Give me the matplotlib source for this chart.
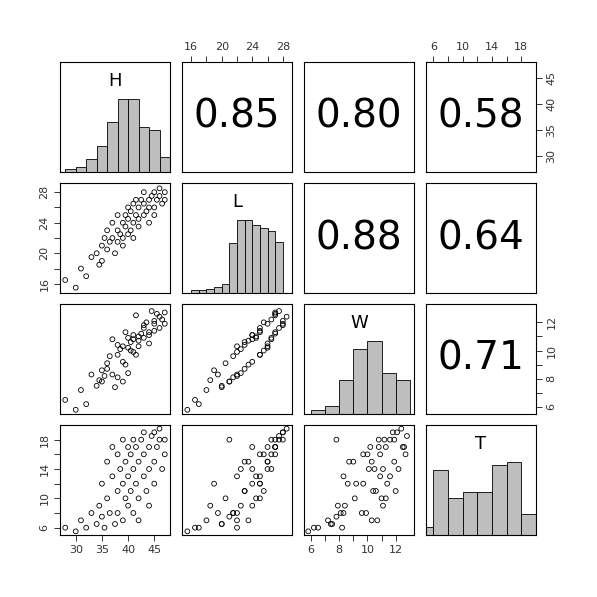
import matplotlib
matplotlib.use("Agg")
import matplotlib.pyplot as plt
import numpy as np

names = ["H", "L", "W", "T"]

H = [28, 30, 31, 32, 33, 34, 34.5, 35, 35, 35.5, 36, 36, 36.5, 37, 37, 37.5, 38, 38, 38, 38.5,
     39, 39, 39, 39.5, 39.5, 40, 40, 40, 40.5, 40.5, 41, 41, 41, 41.5, 41.5, 42, 42, 42, 42.5,
     43, 43, 43, 43.5, 44, 44, 44, 44.5, 45, 45, 45, 45.5, 46, 46, 46.5, 47, 47]
L = [16.5, 15.5, 18, 17, 19.5, 20, 18.5, 21, 19, 22, 20.5, 23, 21.5, 22, 24, 20, 23, 21.5, 25, 22.5,
     24, 22, 21, 25, 23.5, 24.5, 22.5, 26, 23, 25.5, 24, 26.5, 22, 25, 27, 24.5, 26, 23.5, 27,
     25, 26.5, 28, 25.5, 27, 24, 26, 27.5, 26, 28, 25, 27, 27.5, 28.5, 26.5, 28, 27]
W = [6.5, 5.8, 7.2, 6.2, 8.3, 7.5, 7.9, 7.8, 8.6, 8.2, 9.1, 8.7, 9.6, 8.3, 10.8, 7.4, 10.4, 8.1, 9.7, 10.1,
     9.2, 10.3, 7.8, 11.3, 9.0, 10.9, 8.4, 10.2, 10.6, 10.0, 11.1, 10.8, 9.9, 9.7, 12.5, 11.0, 10.3, 10.7, 11.2,
     11.6, 10.9, 11.8, 12.0, 11.3, 11.1, 10.5, 12.8, 11.9, 12.1, 11.4, 12.6, 11.6, 12.4, 12.2, 11.9, 12.7]
T = [6, 5.5, 7, 6, 8, 6.5, 9, 7.5, 12, 6, 10, 15, 8, 13, 17, 6.5, 11, 8, 16, 14,
     12, 7, 18, 10, 15, 13, 9, 17, 11, 16, 14, 18, 8, 12, 17, 10, 15, 7, 18,
     13, 16, 19, 11, 17, 9, 14, 18.5, 15, 19, 12, 17, 18, 19.5, 14, 18, 16]
data = [H, L, W, T]

corr = {(0, 1): "0.85", (0, 2): "0.80", (0, 3): "0.58",
        (1, 2): "0.88", (1, 3): "0.64", (2, 3): "0.71"}

# histogram bins and normalized counts
hist_edges = [list(range(28, 50, 2)),
              list(range(16, 29, 1)),
              list(range(6, 14, 1)),
              list(range(4, 21, 2))]
hist_counts = [[0.04, 0.07, 0.18, 0.36, 0.68, 0.99, 1.0, 0.61, 0.57, 0.2],
               [0.04, 0.04, 0.06, 0.08, 0.12, 0.68, 0.99, 1.0, 0.93, 0.89, 0.85, 0.7],
               [0.06, 0.11, 0.47, 0.89, 1.0, 0.56, 0.47],
               [0.11, 0.89, 0.51, 0.58, 0.59, 0.96, 1.0, 0.28]]

lims = [(27, 48), (14.8, 29.2), (5.5, 13.3), (5, 20)]
ticks = [[30, 35, 40, 45], [16, 20, 24, 28], [6, 8, 10, 12], [6, 10, 14, 18]]
minor = [[30, 35, 40, 45], [16, 18, 20, 22, 24, 26, 28], [6, 7, 8, 9, 10, 11, 12], [6, 8, 10, 12, 14, 16, 18]]

W_PX = 597
lefts = [60, 182, 304, 426]
tops = [62, 183, 304, 425]
size = 110

fig = plt.figure(figsize=(5.97, 5.97), dpi=100)
for r in range(4):
    for c in range(4):
        ax = fig.add_axes([lefts[c] / W_PX, 1 - (tops[r] + size) / W_PX, size / W_PX, size / W_PX])
        ax.set_xticks([]); ax.set_yticks([])
        for s in ax.spines.values():
            s.set_linewidth(0.8)
        if r == c:
            e = hist_edges[r]
            ax.bar(e[:-1], hist_counts[r], width=np.diff(e), align="edge",
                   color="#bebebe", edgecolor="black", linewidth=0.6)
            ax.set_xlim(lims[r]); ax.set_ylim(0, 1.5)
            ax.text(0.5, 0.83, names[r], transform=ax.transAxes, ha="center", va="center", fontsize=13)
        elif r > c:
            ax.scatter(data[c], data[r], s=12, facecolors="none", edgecolors="black", linewidths=0.6)
            ax.set_xlim(lims[c]); ax.set_ylim(lims[r])
        else:
            ax.text(0.5, 0.5, corr[(r, c)], transform=ax.transAxes, ha="center", va="center", fontsize=28)
        # outer ticks, R pairs style
        if r == 0 and c in (1, 3):
            ax.set_xlim(lims[c]); ax.xaxis.tick_top()
            ax.set_xticks(minor[c]); ax.set_xticklabels([str(t) if t in ticks[c] else "" for t in minor[c]], fontsize=8)
        if r == 3 and c in (0, 2):
            ax.set_xlim(lims[c])
            ax.set_xticks(minor[c]); ax.set_xticklabels([str(t) if t in ticks[c] else "" for t in minor[c]], fontsize=8)
        if c == 0 and r in (1, 3):
            ax.set_ylim(lims[r])
            ax.set_yticks(minor[r]); ax.set_yticklabels([str(t) if t in ticks[r] else "" for t in minor[r]], fontsize=8, rotation=90, va="center")
        if c == 3 and r in (0, 2):
            ax.set_ylim(lims[r]); ax.yaxis.tick_right()
            ax.set_yticks(minor[r]); ax.set_yticklabels([str(t) if t in ticks[r] else "" for t in minor[r]], fontsize=8, rotation=90, va="center")
        ax.tick_params(length=4, width=0.7, colors="#333333", labelcolor="#333333")

fig.savefig("out.png", dpi=100)
